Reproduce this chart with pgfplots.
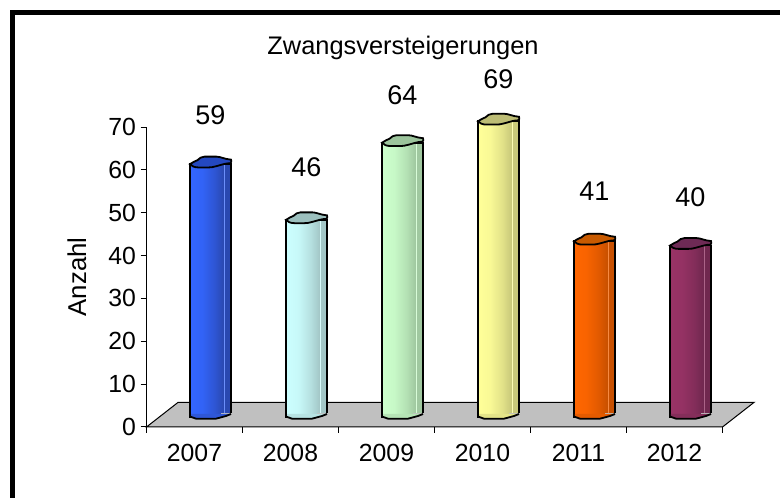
\documentclass[border=0pt]{standalone}
\usepackage{fontspec}
\setmainfont{Liberation Sans}
\usepackage{pgfplots}
\pgfplotsset{compat=1.18}

% body shading: the bar fills the middle 50bp of the 100bp shading
\newcommand{\cylshade}[3]{%
  \pgfdeclarehorizontalshading{#1}{100bp}{%
    color(0bp)=(#2); color(25bp)=(#2); color(40bp)=(#2!88!#3); color(55bp)=(#2!45!#3);
    color(66bp)=(#3); color(66.6bp)=(#2!70!white); color(67.6bp)=(#3); color(75bp)=(#3); color(100bp)=(#3)}}
\definecolor{cA}{HTML}{3366FF}\definecolor{dA}{HTML}{2A48B0}\definecolor{tA}{HTML}{2448C0}
\definecolor{cB}{HTML}{CCFFFF}\definecolor{dB}{HTML}{A3C7C7}\definecolor{tB}{HTML}{9CC0BE}
\definecolor{cC}{HTML}{CCFFCC}\definecolor{dC}{HTML}{A0C8A0}\definecolor{tC}{HTML}{9CC49C}
\definecolor{cD}{HTML}{FFFF99}\definecolor{dD}{HTML}{C8C87A}\definecolor{tD}{HTML}{BDBD75}
\definecolor{cE}{HTML}{FF6600}\definecolor{dE}{HTML}{C85000}\definecolor{tE}{HTML}{C85A00}
\definecolor{cF}{HTML}{993366}\definecolor{dF}{HTML}{70284F}\definecolor{tF}{HTML}{6E2A55}
\definecolor{floor}{HTML}{C0C0C0}
\cylshade{sA}{cA}{dA}\cylshade{sB}{cB}{dB}\cylshade{sC}{cC}{dC}
\cylshade{sD}{cD}{dD}\cylshade{sE}{cE}{dE}\cylshade{sF}{cF}{dF}

% wavy cap on top of a cylinder
\pgfdeclareplotmark{cap}{%
  \pgfpathmoveto{\pgfpoint{-20.5pt}{0pt}}
  \pgfpathcurveto{\pgfpoint{-18pt}{2pt}}{\pgfpoint{-15pt}{3pt}}{\pgfpoint{-13pt}{4pt}}
  \pgfpathcurveto{\pgfpoint{-11pt}{6pt}}{\pgfpoint{-9pt}{7.5pt}}{\pgfpoint{-6pt}{7.5pt}}
  \pgflineto{\pgfpoint{6pt}{7.5pt}}
  \pgfpathcurveto{\pgfpoint{10pt}{7.5pt}}{\pgfpoint{14pt}{5pt}}{\pgfpoint{20.5pt}{4.5pt}}
  \pgfpathcurveto{\pgfpoint{21pt}{3pt}}{\pgfpoint{21pt}{2pt}}{\pgfpoint{20pt}{1pt}}
  \pgfpathcurveto{\pgfpoint{15pt}{1pt}}{\pgfpoint{10pt}{-1pt}}{\pgfpoint{6pt}{-2pt}}
  \pgfpathcurveto{\pgfpoint{3pt}{-3pt}}{\pgfpoint{0pt}{-3.3pt}}{\pgfpoint{-2pt}{-3.3pt}}
  \pgflineto{\pgfpoint{-12pt}{-3.3pt}}
  \pgfpathcurveto{\pgfpoint{-16pt}{-3.3pt}}{\pgfpoint{-19pt}{-2pt}}{\pgfpoint{-20.5pt}{0pt}}
  \pgfpathclose
  \pgfusepathqfillstroke}
% rounded foot: hides the square corner of the bar
\pgfdeclareplotmark{foot}{%
  \begin{pgfscope}
    \pgfsetfillcolor{floor}
    \pgfpathrectangle{\pgfpoint{10pt}{-3pt}}{\pgfpoint{12.5pt}{6.5pt}}
    \pgfusepathqfill
  \end{pgfscope}
  \pgfpathmoveto{\pgfpoint{-19.5pt}{3pt}}
  \pgflineto{\pgfpoint{-19.5pt}{0.5pt}}
  \pgflineto{\pgfpoint{-14.5pt}{-1.7pt}}
  \pgflineto{\pgfpoint{5.5pt}{-1.7pt}}
  \pgflineto{\pgfpoint{15.5pt}{1pt}}
  \pgflineto{\pgfpoint{20.2pt}{3pt}}
  \pgfpathclose
  \pgfusepathqfill
  \pgfpathmoveto{\pgfpoint{-20.5pt}{0.5pt}}
  \pgflineto{\pgfpoint{-14.5pt}{-1.7pt}}
  \pgflineto{\pgfpoint{5.5pt}{-1.7pt}}
  \pgflineto{\pgfpoint{15.5pt}{1pt}}
  \pgflineto{\pgfpoint{20.5pt}{3pt}}
  \pgfusepathqstroke}

\begin{document}
\begin{tikzpicture}[x=1pt,y=1pt,font=\fontsize{24}{28}\selectfont]
\useasboundingbox (0,0) rectangle (780,498);
\clip (0,0) rectangle (780,498);
\fill[white] (0,0) rectangle (780,498);
\draw[gray!60,line width=1pt] (10,487.5) -- (780,487.5);
\draw[black,line width=5pt] (12.5,0) -- (12.5,485.5) -- (780,485.5);
\node[font=\fontsize{25.4}{30}\selectfont] at (403,450) {Zwangsversteigerungen};
\begin{axis}[
    at={(146.5pt,71pt)}, anchor=south west,
    scale only axis, width=576pt, height=300pt,
    xmin=-0.5, xmax=5.5, ymin=0, ymax=70,
    axis lines=left, axis line style={-, line width=1pt},
    tick align=outside, tick style={black, line width=1pt},
    major tick length=6pt, minor tick length=6pt,
    xtick={0,1,2,3,4,5}, xticklabels={2007,2008,2009,2010,2011,2012},
    minor xtick={-0.5,0.5,1.5,2.5,3.5,4.5,5.5},
    x tick style={draw=none}, minor x tick style={draw=black, line width=1pt},
    ytick={0,10,20,30,40,50,60,70},
    /pgf/number format/assume math mode=true,
    tick label style={font=\fontsize{24.8}{28}\selectfont},
    xticklabel style={yshift=-8pt},
    yticklabel style={xshift=-1pt},
    ylabel={Anzahl},
    ylabel style={font=\fontsize{25.8}{30}\selectfont, anchor=center, at={(axis description cs:-0.1207,0.5)}},
    clip=false,
    cyl/.style={ybar, bar shift=0pt, bar width=40.5pt, draw=black, line width=1.8pt, xshift=16pt, yshift=10pt},
    lab/.style={draw=none, mark=none, xshift=16pt, nodes near coords, point meta=y,
      every node near coord/.append style={anchor=center, font=\fontsize{27}{30}\selectfont, yshift=#1}},
    tops/.style={only marks, mark=cap, xshift=16pt, yshift=10pt, mark options={draw=black, line width=1.8pt, fill=#1}},
    feet/.style={only marks, mark=foot, xshift=16pt, yshift=10pt, mark options={draw=black, line width=1.8pt, fill=#1}},
]
% floor
\addplot[draw=black, line width=1pt, fill=floor] coordinates {(-0.5,0) (-0.17,5.77) (5.83,5.77) (5.5,0)} -- cycle;
% 2007
\addplot[cyl, shading=sA] coordinates {(0,59)};
\addplot[tops=tA] coordinates {(0,59)};
\addplot[feet=cA!50!dA] coordinates {(0,0)};
\addplot[lab=59pt] coordinates {(0,59)};
% 2008
\addplot[cyl, shading=sB] coordinates {(1,46)};
\addplot[tops=tB] coordinates {(1,46)};
\addplot[feet=cB!50!dB] coordinates {(1,0)};
\addplot[lab=63pt] coordinates {(1,46)};
% 2009
\addplot[cyl, shading=sC] coordinates {(2,64)};
\addplot[tops=tC] coordinates {(2,64)};
\addplot[feet=cC!50!dC] coordinates {(2,0)};
\addplot[lab=58pt] coordinates {(2,64)};
% 2010
\addplot[cyl, shading=sD] coordinates {(3,69)};
\addplot[tops=tD] coordinates {(3,69)};
\addplot[feet=cD!50!dD] coordinates {(3,0)};
\addplot[lab=52pt] coordinates {(3,69)};
% 2011
\addplot[cyl, shading=sE] coordinates {(4,41)};
\addplot[tops=tE] coordinates {(4,41)};
\addplot[feet=cE!50!dE] coordinates {(4,0)};
\addplot[lab=60pt] coordinates {(4,41)};
% 2012
\addplot[cyl, shading=sF] coordinates {(5,40)};
\addplot[tops=tF] coordinates {(5,40)};
\addplot[feet=cF!50!dF] coordinates {(5,0)};
\addplot[lab=58pt] coordinates {(5,40)};
\end{axis}
\end{tikzpicture}
\end{document}
